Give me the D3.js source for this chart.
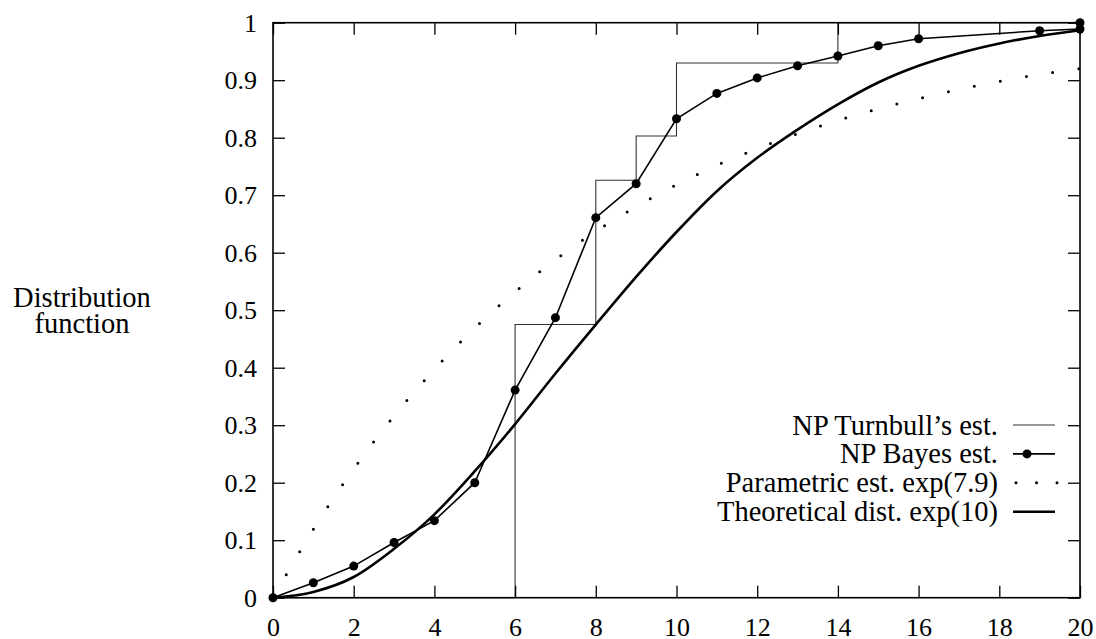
<!DOCTYPE html>
<html>
<head>
<meta charset="utf-8">
<script src="https://cdn.jsdelivr.net/npm/d3@7"></script>
<style>
  body { margin: 0; background: #fff; }
</style>
</head>
<body>
<svg width="1096" height="639"></svg>
<script>
// values
const xTicks = [0, 2, 4, 6, 8, 10, 12, 14, 16, 18, 20];
const yTicks = [0, 0.1, 0.2, 0.3, 0.4, 0.5, 0.6, 0.7, 0.8, 0.9, 1];
const yTickLabels = ['0', '0.1', '0.2', '0.3', '0.4', '0.5', '0.6', '0.7', '0.8', '0.9', '1'];

// NP Turnbull's estimator (step function, jumps at these x)
const turnbullX = [0, 6, 8, 9, 10, 14, 20];
const turnbullY = [0, 0.475, 0.726, 0.803, 0.93, 1.0, 1.0];

// NP Bayes estimator
const bayesX = [0, 1, 2, 3, 4, 5, 6, 7, 8, 9, 10, 11, 12, 13, 14, 15, 16, 19, 20, 20];
const bayesY = [0, 0.026, 0.055, 0.096, 0.134, 0.2, 0.361, 0.487, 0.661, 0.72, 0.833, 0.877, 0.904, 0.925, 0.942, 0.96, 0.972, 0.986, 0.989, 1.0];

// Parametric est. exp(7.9)
const paramX = [0, 1, 2, 3, 4, 5, 6, 7, 8, 9, 10, 11, 12, 13, 14, 15, 16, 17, 18, 19, 20];
const paramY = [0, 0.119, 0.224, 0.316, 0.397, 0.469, 0.532, 0.588, 0.637, 0.68, 0.718, 0.752, 0.781, 0.807, 0.83, 0.85, 0.868, 0.884, 0.898, 0.91, 0.92];

// Theoretical dist. exp(10)
const theoX = [0, 1, 2, 3, 4, 5, 6, 7, 8, 9, 10, 11, 12, 13, 14, 15, 16, 17, 18, 19, 20];
const theoY = [0, 0.01, 0.036, 0.085, 0.145, 0.22, 0.302, 0.39, 0.475, 0.558, 0.636, 0.707, 0.765, 0.814, 0.858, 0.896, 0.925, 0.947, 0.964, 0.977, 0.987];

const legendLabels = ["NP Turnbull\u2019s est.", 'NP Bayes est.', 'Parametric est. exp(7.9)', 'Theoretical dist. exp(10)'];

const svg = d3.select('svg');
const width = parseFloat(svg.attr('width'));
const height = parseFloat(svg.attr('height'));
const margin = { top: 22.7, right: 16, bottom: 41.3, left: 273 };
const innerWidth = width - margin.left - margin.right;
const innerHeight = height - margin.top - margin.bottom;
const tickFont = 26;
const labelFont = 28.5;
const serif = 'Liberation Serif';

const xScale = d3.scaleLinear().domain([0, 20]).range([0, innerWidth]);
const yScale = d3.scaleLinear().domain([0, 1]).range([innerHeight, 0]);

const g = svg.append('g')
  .attr('transform', `translate(${margin.left}, ${margin.top})`);

const zip = (xs, ys) => xs.map((x, i) => [x, ys[i]]);

// Turnbull step
g.append('path')
  .datum(zip(turnbullX, turnbullY))
  .attr('fill', 'none')
  .attr('stroke', '#333')
  .attr('stroke-width', 1.1)
  .attr('d', d3.line().x(d => xScale(d[0])).y(d => yScale(d[1])).curve(d3.curveStepAfter));

// Bayes line + points
const bayes = zip(bayesX, bayesY);
g.append('path')
  .datum(bayes)
  .attr('fill', 'none')
  .attr('stroke', '#000')
  .attr('stroke-width', 1.6)
  .attr('d', d3.line().x(d => xScale(d[0])).y(d => yScale(d[1])));
g.selectAll('circle.bayes')
  .data(bayes)
  .enter()
  .append('circle')
  .attr('class', 'bayes')
  .attr('cx', d => xScale(d[0]))
  .attr('cy', d => yScale(d[1]))
  .attr('r', 4.5)
  .attr('fill', '#000');

// Parametric: dotted
g.append('path')
  .datum(zip(paramX, paramY))
  .attr('fill', 'none')
  .attr('stroke', '#000')
  .attr('stroke-width', 3)
  .attr('stroke-linecap', 'round')
  .attr('stroke-dasharray', '0 26.5')
  .attr('d', d3.line().x(d => xScale(d[0])).y(d => yScale(d[1])).curve(d3.curveMonotoneX));

// Theoretical: thick
g.append('path')
  .datum(zip(theoX, theoY))
  .attr('fill', 'none')
  .attr('stroke', '#000')
  .attr('stroke-width', 2.6)
  .attr('d', d3.line().x(d => xScale(d[0])).y(d => yScale(d[1])).curve(d3.curveMonotoneX));

// axes, ticks on all four sides pointing in
const xAxis = d3.axisBottom(xScale).tickValues(xTicks).tickSize(-12).tickPadding(19.5);
const yAxis = d3.axisLeft(yScale).tickValues(yTicks).tickSize(-12).tickPadding(16)
  .tickFormat((d, i) => yTickLabels[i]);

g.append('g').attr('transform', `translate(0, ${innerHeight})`).call(xAxis);
g.append('g').call(yAxis);
g.append('g').call(d3.axisTop(xScale).tickValues(xTicks).tickSize(-12).tickFormat(''));
g.append('g').attr('transform', `translate(${innerWidth}, 0)`)
  .call(d3.axisRight(yScale).tickValues(yTicks).tickSize(-12).tickFormat(''));

g.selectAll('.domain').remove();
g.selectAll('.tick line').attr('stroke', '#000').attr('stroke-width', 1.3);
g.selectAll('.tick text')
  .attr('fill', '#000')
  .attr('font-family', serif)
  .attr('font-size', tickFont);

g.append('rect')
  .attr('width', innerWidth)
  .attr('height', innerHeight)
  .attr('fill', 'none')
  .attr('stroke', '#000')
  .attr('stroke-width', 1.6);

// y axis title
const ylab = svg.append('text')
  .attr('text-anchor', 'middle')
  .attr('font-family', serif)
  .attr('font-size', labelFont)
  .attr('fill', '#000');
ylab.append('tspan').attr('x', 82).attr('y', 306.5).text('Distribution');
ylab.append('tspan').attr('x', 82).attr('y', 333).text('function');

// legend
const legendTextX = 998;
const sampleX0 = 1013;
const sampleX1 = 1055;
const legendY0 = 425;
const legendStep = 28.9;

const lg = svg.append('g');
legendLabels.forEach((label, i) => {
  const y = legendY0 + i * legendStep;
  lg.append('text')
    .attr('x', legendTextX)
    .attr('y', y + 9.5)
    .attr('text-anchor', 'end')
    .attr('font-family', serif)
    .attr('font-size', labelFont)
    .attr('fill', '#000')
    .text(label);
});
lg.append('line')
  .attr('x1', sampleX0).attr('x2', sampleX1)
  .attr('y1', legendY0).attr('y2', legendY0)
  .attr('stroke', '#333').attr('stroke-width', 1.1);
lg.append('line')
  .attr('x1', sampleX0).attr('x2', sampleX1)
  .attr('y1', legendY0 + legendStep).attr('y2', legendY0 + legendStep)
  .attr('stroke', '#000').attr('stroke-width', 1.6);
lg.append('circle')
  .attr('cx', 1027).attr('cy', legendY0 + legendStep)
  .attr('r', 4.5).attr('fill', '#000');
lg.append('line')
  .attr('x1', sampleX0 + 3).attr('x2', sampleX1 + 5)
  .attr('y1', legendY0 + 2 * legendStep).attr('y2', legendY0 + 2 * legendStep)
  .attr('stroke', '#000').attr('stroke-width', 3)
  .attr('stroke-linecap', 'round').attr('stroke-dasharray', '0 20.5');
lg.append('line')
  .attr('x1', sampleX0).attr('x2', sampleX1)
  .attr('y1', legendY0 + 3 * legendStep).attr('y2', legendY0 + 3 * legendStep)
  .attr('stroke', '#000').attr('stroke-width', 2.6);
</script>
</body>
</html>
